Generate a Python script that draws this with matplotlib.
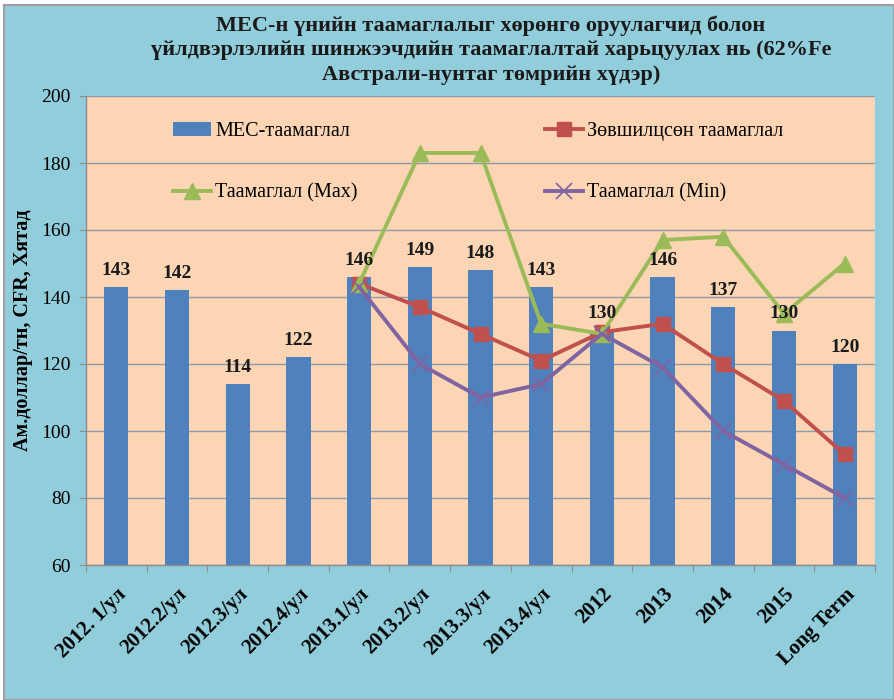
import matplotlib
matplotlib.use("Agg")
import matplotlib.pyplot as plt
from matplotlib.patches import Rectangle
import numpy as np

categories = ["2012. 1/ул", "2012.2/ул", "2012.3/ул", "2012.4/ул", "2013.1/ул", "2013.2/ул",
              "2013.3/ул", "2013.4/ул", "2012", "2013", "2014", "2015", "Long Term"]
mes_forecast = [143, 142, 114, 122, 146, 149, 148, 143, 130, 146, 137, 130, 120]
consensus = [None, None, None, None, 144, 137, 129, 121, 129.5, 132, 120, 109, 93]
forecast_max = [None, None, None, None, 144, 183, 183, 132, 129, 157, 158, 135, 150]
forecast_min = [None, None, None, None, 143, 120, 110, 114, 129, 119, 100, 90, 80]

title = ("МЕС-н үнийн таамаглалыг хөрөнгө оруулагчид болон\n"
         "үйлдвэрлэлийн шинжээчдийн таамаглалтай харьцуулах нь (62%Fe\n"
         "Австрали-нунтаг төмрийн хүдэр)")
ylabel = "Ам.доллар/тн, CFR, Хятад"
labels = ["МЕС-таамаглал", "Зөвшилцсөн таамаглал", "Таамаглал (Max)", "Таамаглал (Min)"]

BG = "#92CDDC"
PLOT_BG = "#FCD5B5"
C_BAR = "#4F81BD"
C_RED = "#C0504D"
C_GREEN = "#9BBB59"
C_PURPLE = "#8064A2"
GRID = "#8E9AA6"
SERIF = "Liberation Serif"

fig = plt.figure(figsize=(8.94, 7.0), dpi=100)
fig.patch.set_facecolor("white")
fig.patches.append(Rectangle((4 / 894, 0), 1 - 4 / 894, 1 - 5 / 700, transform=fig.transFigure,
                             facecolor=BG, edgecolor="#A0A0A0", linewidth=1.5, zorder=-10))

ax = fig.add_axes([86 / 894, 1 - 565 / 700, (875 - 86) / 894, (565 - 96) / 700])
ax.set_zorder(1)
ax.set_facecolor(PLOT_BG)

x = np.arange(len(categories))

def arr(v):
    return np.array([np.nan if a is None else a for a in v], dtype=float)

bars = ax.bar(x, mes_forecast, width=0.4, color=C_BAR, zorder=2, label=labels[0])
for xi, v in zip(x, mes_forecast):
    ax.annotate(str(v), (xi, v), xytext=(0, 6), textcoords="offset points",
                ha="center", va="bottom", fontsize=14, fontweight="bold",
                family=SERIF, color="#1a1a1a", zorder=5)

l_red, = ax.plot(x, arr(consensus), color=C_RED, lw=2.8, marker="s", markersize=10.5,
                 label=labels[1], zorder=3)
l_green, = ax.plot(x, arr(forecast_max), color=C_GREEN, lw=2.8, marker="^", markersize=11.5,
                   label=labels[2], zorder=3)
l_purple, = ax.plot(x, arr(forecast_min), color=C_PURPLE, lw=2.8, marker="x", markersize=11,
                    markeredgewidth=1.2, label=labels[3], zorder=4)

ax.set_xlim(-0.5, len(categories) - 0.5)
ax.set_ylim(60, 200)
ax.set_yticks(np.arange(60, 201, 20))
ax.yaxis.grid(True, color=GRID, lw=1.0, zorder=1)
ax.set_axisbelow(True)

ax.set_xticks(np.arange(-0.5, len(categories), 1.0))
ax.set_xticklabels([])
ax.set_xticks(x, minor=True)
ax.set_xticklabels(categories, minor=True, rotation=45, ha="right", va="top",
                   rotation_mode="anchor", fontsize=15, fontweight="bold", family=SERIF)
ax.tick_params(axis="x", which="minor", length=0, pad=14)
ax.tick_params(axis="x", which="major", length=5, color="#8C8C8C", direction="out")
ax.tick_params(axis="y", length=5, color="#8C8C8C", direction="out", pad=6)
for t in ax.get_yticklabels():
    t.set_family(SERIF)
    t.set_fontsize(14)

for s in ["top", "right"]:
    ax.spines[s].set_visible(False)
for s in ["left", "bottom"]:
    ax.spines[s].set_color("#8C8C8C")
    ax.spines[s].set_linewidth(1.0)

ax.set_ylabel(ylabel, fontsize=14.5, fontweight="bold", family=SERIF, labelpad=6)

leg = ax.legend([bars, l_green, l_red, l_purple],
                [labels[0], labels[2], labels[1], labels[3]],
                ncol=2, loc="upper left", bbox_to_anchor=(0.087, 0.983), frameon=False,
                prop={"family": SERIF, "size": 14.5}, labelspacing=2.1, columnspacing=9.3,
                handlelength=1.9, handletextpad=0.2)

fig.text(0.549, 0.978, title, ha="center", va="top", fontsize=16, fontweight="bold",
         family=SERIF, linespacing=1.3, color="#1a1a1a")

fig.savefig("out.png", dpi=100, facecolor=fig.get_facecolor())
